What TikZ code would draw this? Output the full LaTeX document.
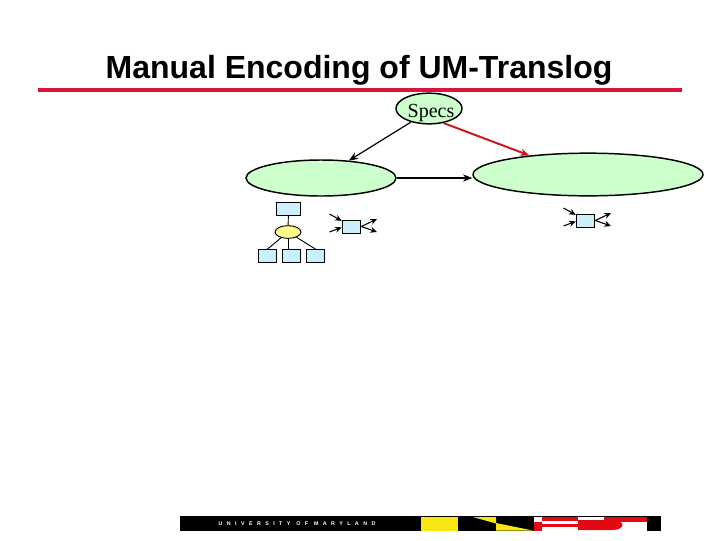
\documentclass[tikz,border=0pt]{standalone}
\usepackage{fontspec}
\setmainfont{Liberation Sans}
\newfontfamily\specsfont{Liberation Serif}
\newfontfamily\barfont[LetterSpace=83]{Liberation Sans}
\usetikzlibrary{shapes.geometric,arrows.meta}
\definecolor{rulered}{RGB}{220,20,60}
\definecolor{arrowred}{RGB}{204,26,26}
\definecolor{bargold}{RGB}{245,230,20}
\definecolor{flagred}{RGB}{225,10,20}
\tikzset{
    bigeli/.style={draw,line width=1.1pt,ellipse,inner sep=0pt,fill=green!20},
    smallbox/.style={draw,line width=0.7pt,rectangle,inner sep=0pt,fill=cyan!20,minimum height=9.7pt},
    mainarrow/.style={line width=0.9pt,-{Stealth[length=7pt,width=5.5pt]}},
    thinarrow/.style={line width=0.8pt,-{Stealth[length=5pt,width=4.5pt]}}
}
\begin{document}
\begin{tikzpicture}[x=0.75pt,y=-0.75pt]
    \useasboundingbox (0,0) rectangle (720,540);

    \node (title) at (359,70) {\fontsize{24}{28}\selectfont\bfseries Manual Encoding of UM-Translog};
    \fill[rulered] (38,88) rectangle (682,92);

    \node[bigeli,minimum width=49.5pt,minimum height=23pt] (specs) at (429,108.5) {\makebox[0pt]{\hspace*{3pt}\raisebox{-6.5pt}[0pt][0pt]{\specsfont\fontsize{15}{16}\selectfont Specs}}};
    \node[bigeli,minimum width=112.5pt,minimum height=27pt] (lefteli) at (321,178) {};
    \node[bigeli,minimum width=172.5pt,minimum height=32pt] (righteli) at (588,174.5) {};

    \draw[mainarrow] (specs.217) -- (lefteli.32);
    \draw[mainarrow,line width=1.5pt,arrowred] (specs.315) -- (righteli.162.5);
    \draw[mainarrow] (lefteli.east) -- (righteli.west |- lefteli.east);

    % tree under the left ellipse
    \node[smallbox,minimum width=18.5pt] (parent) at (288.5,208.5) {};
    \node[draw,line width=0.7pt,ellipse,inner sep=0pt,fill=yellow!45,minimum width=19.5pt,minimum height=9.5pt] (oper) at (288,232) {};
    \node[smallbox,minimum width=14pt] (leafa) at (267.5,256) {};
    \node[smallbox,minimum width=14pt] (leafb) at (291.5,256) {};
    \node[smallbox,minimum width=14pt] (leafc) at (315.5,256) {};
    \draw[line width=0.7pt] (parent) -- (oper);
    \draw[line width=0.7pt] (oper) -- (leafa.north);
    \draw[line width=0.7pt] (oper) -- (oper |- leafb.north);
    \draw[line width=0.7pt] (oper) -- (leafc.north);

    \foreach \cx/\cy/\nm in {351.5/226.5/l,585.5/220.5/r} {
    \begin{scope}[shift={(\cx,\cy)},name prefix=\nm-]
        \node[smallbox,minimum width=14pt] (proc) at (0,0) {};
        \coordinate (ina) at (-22,-12.5);
        \coordinate (inb) at (-22,5.5);
        \coordinate (outa) at (25.5,-7.5);
        \coordinate (outb) at (25.5,5.5);
        \draw[thinarrow] (ina) -- (proc.150);
        \draw[thinarrow] (inb) -- (proc.185);
        \draw[thinarrow] (proc.east) -- (outa);
        \draw[thinarrow] (proc.east) -- (outb);
    \end{scope}
    }

    % footer bar
    \fill[black] (180,516) rectangle (661,531);
    \node[text=white,inner sep=0pt] (univ) at (297,524) {\barfont\fontsize{4}{5}\selectfont\bfseries UNIVERSITY OF MARYLAND};
    \fill[bargold] (421,517) rectangle (458,531);
    \fill[bargold] (473,517) -- (496,517) -- (496,523.5) -- cycle;
    \fill[bargold] (496,523) -- (533,530.5) -- (496,530.5) -- cycle;
    \fill[white] (534,517) rectangle (647,531);
    \fill[flagred] (534,522) rectangle (542,531);
    \fill[flagred] (542,517) rectangle (578,521);
    \fill[flagred] (542,524) rectangle (578,527);
    \fill[flagred] (578,520) -- (612,520) .. controls (626,520) and (626,530) .. (612,530) -- (578,530) -- cycle;
    \fill[flagred] (604,517) rectangle (647,522);
\end{tikzpicture}
\end{document}
